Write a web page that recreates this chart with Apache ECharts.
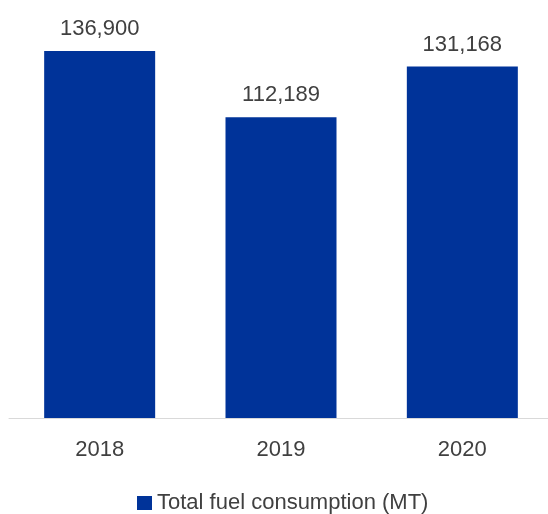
<!DOCTYPE html>
<html>
<head>
<meta charset="utf-8">
<script src="https://cdn.jsdelivr.net/npm/echarts@6/dist/echarts.min.js"></script>
<style>
  html, body { margin: 0; padding: 0; background: #ffffff; overflow: hidden; }
  #wrap { width: 548px; height: 514px; overflow: hidden; }
  /* the plot runs slightly past the right edge, so the canvas is wider than the view */
  #chart { width: 556px; height: 514px; }
</style>
</head>
<body>
<div id="wrap"><div id="chart"></div></div>
<script>
// Annual totals
var years = ['2018', '2019', '2020'];
var fuelConsumption = [136900, 112189, 131168];
var seriesName = 'Total fuel consumption (MT)';

var FONT = '"Liberation Sans", Arial, sans-serif';
var TEXT = '#404040';

var chart = echarts.init(document.getElementById('chart'), null, { renderer: 'canvas' });
chart.setOption({
  animation: false,
  backgroundColor: '#ffffff',
  grid: { left: 9, width: 544, top: 16, bottom: 96, containLabel: false },
  legend: {
    data: [seriesName],
    left: 132,
    top: 487,
    itemWidth: 15,
    itemHeight: 14,
    icon: 'rect',
    textStyle: { fontFamily: FONT, fontSize: 22, color: TEXT }
  },
  xAxis: {
    type: 'category',
    data: years,
    axisLine: { show: true, lineStyle: { color: '#d9d9d9', width: 1 } },
    axisTick: { show: false },
    axisLabel: { fontFamily: FONT, fontSize: 22, color: TEXT, margin: 21 }
  },
  yAxis: {
    type: 'value',
    min: 0,
    max: 150000,
    show: false,
    splitLine: { show: false }
  },
  series: [{
    name: seriesName,
    type: 'bar',
    data: fuelConsumption,
    barWidth: 111,
    itemStyle: { color: '#003399' },
    label: {
      show: true,
      position: 'top',
      distance: 11,
      fontFamily: FONT,
      fontSize: 22,
      color: TEXT,
      formatter: function (p) { return p.value.toLocaleString('en-US'); }
    }
  }]
});
</script>
</body>
</html>
